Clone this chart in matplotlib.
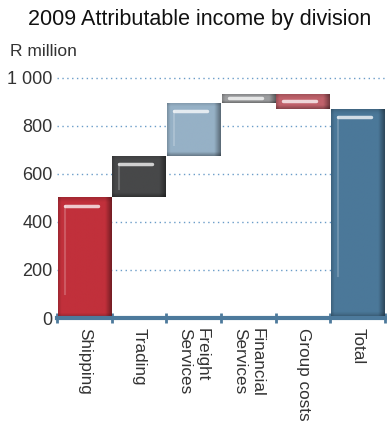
import numpy as np
import matplotlib.pyplot as plt
from matplotlib.colors import to_rgb

categories = ["Shipping", "Trading", "Freight\nServices", "Financial\nServices", "Group costs", "Total"]
values = [503, 172, 222, 36, -62, 871]
colors = ["#c1303b", "#474849", "#96b1c6", "#9d9ea0", "#c0626b", "#4b7899"]
yticks = [0, 200, 400, 600, 800, 1000]
ytick_labels = ["0", "200", "400", "600", "800", "1 000"]

plt.rcParams["font.family"] = ["Liberation Sans", "DejaVu Sans"]
axis_col = "#4d7a9c"

# waterfall: running total, last bar is the total from zero
bottoms = []
heights = []
run = 0
for v in values[:-1]:
    bottoms.append(min(run, run + v))
    heights.append(abs(v))
    run += v
bottoms.append(0)
heights.append(values[-1])

fig = plt.figure(figsize=(3.87, 4.23), dpi=100)
ax = fig.add_axes([57/387, 105/423, 328/387, 245/423])
x = np.arange(len(categories))
ymax = 1020
px_per_unit = 245 / ymax

bars = ax.bar(x, heights, bottom=bottoms, width=0.97, color=colors, zorder=2)

# bevel shading + highlight, drawn on top of each bar
for b, c in zip(bars, colors):
    x0, y0 = b.get_x(), b.get_y()
    w, h = b.get_width(), b.get_height()
    hp = max(h * px_per_unit, 1)
    u = np.linspace(0, 1, 80)
    v = np.linspace(0, 1, 80)
    fx = 1 - 0.18 * np.clip(1 - u / 0.06, 0, 1) - 0.40 * np.clip((u - 0.88) / 0.12, 0, 1)
    ev = min(4.0 / hp, 0.3)
    fy = 1 - 0.30 * np.clip(1 - v / ev, 0, 1) - 0.15 * np.clip((v - (1 - ev)) / ev, 0, 1)
    f = np.outer(fy, fx)
    rgb = np.array(to_rgb(c))
    img = np.clip(rgb[None, None, :] * f[:, :, None], 0, 1)
    im = ax.imshow(img, extent=[x0, x0 + w, y0, y0 + h], origin="lower",
                   aspect="auto", zorder=3, interpolation="bilinear")
    im.set_clip_path(b)
    hy = y0 + h - min(35, h * 0.45)
    ax.plot([x0 + 0.13 * w, x0 + 0.75 * w], [hy, hy], color="white", alpha=0.75,
            lw=2.5, solid_capstyle="round", zorder=4)
    if h > 100:
        ax.plot([x0 + 0.13 * w, x0 + 0.13 * w], [hy, y0 + 0.2 * h], color="white",
                alpha=0.2, lw=1.5, zorder=4)

ax.set_xlim(-0.5, len(categories) - 0.5)
ax.set_ylim(0, ymax)

ax.set_yticks(yticks)
ax.set_yticklabels(ytick_labels, fontsize=13)
ax.yaxis.grid(True, linestyle=(0, (1, 2.5)), color="#6a9cc8", linewidth=1)
ax.set_axisbelow(True)
ax.tick_params(axis="y", length=0, pad=3, colors="#333333")

for s in ["top", "right", "left"]:
    ax.spines[s].set_visible(False)
ax.spines["bottom"].set_color(axis_col)
ax.spines["bottom"].set_linewidth(3)
ax.spines["bottom"].set_zorder(5)

ax.set_xticks(x)
ax.set_xticklabels(categories, rotation=270, ha="center", va="top",
                   multialignment="left", fontsize=12.3, color="#333333")
ax.set_xticks(np.arange(len(categories) + 1) - 0.5, minor=True)
ax.tick_params(axis="x", which="major", length=0, pad=7)
ax.tick_params(axis="x", which="minor", length=7, width=2, direction="inout", color=axis_col)

fig.text(200/387, 1 - 20/423, "2009 Attributable income by division", ha="center",
         va="center", fontsize=15.5, color="#111111")
fig.text(10/387, 1 - 52/423, "R million", ha="left", va="center", fontsize=12.5,
         color="#333333")

fig.savefig("out.png", dpi=100)
